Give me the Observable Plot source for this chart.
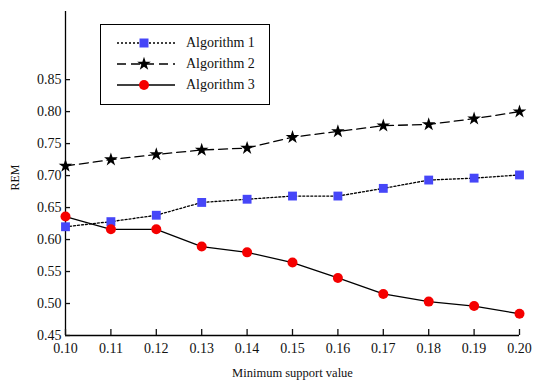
<!DOCTYPE html>
<html>
<head>
<meta charset="utf-8">
<script src="https://cdn.jsdelivr.net/npm/d3@7"></script>
<script src="https://cdn.jsdelivr.net/npm/@observablehq/plot@0.6"></script>
<style>
  html, body { margin: 0; padding: 0; background: #fff; }
  #wrap { position: relative; width: 541px; height: 380px; overflow: hidden; font-family: "Liberation Serif", "Times New Roman", serif; }
  #chart svg, #chart svg text { font-family: "Liberation Serif", "Times New Roman", serif !important; }
  #legend { position: absolute; left: 100px; top: 24px; width: 170px; height: 81px; border: 1px solid #000; background: #fff; box-sizing: border-box; }
  .lg-row { position: absolute; left: 0; height: 20px; display: flex; align-items: center; }
  .lg-row span { font-size: 14px; margin-left: 10px; color: #111; font-family: "Liberation Serif", serif; }
</style>
</head>
<body>
<div id="wrap">
  <div id="chart"></div>
  <div id="legend"></div>
</div>
<script>
const supportValues = [0.10, 0.11, 0.12, 0.13, 0.14, 0.15, 0.16, 0.17, 0.18, 0.19, 0.20];
const algorithm1 = [0.620, 0.628, 0.638, 0.658, 0.663, 0.668, 0.668, 0.680, 0.693, 0.696, 0.701];
const algorithm2 = [0.715, 0.725, 0.733, 0.740, 0.743, 0.760, 0.769, 0.778, 0.780, 0.789, 0.800];
const algorithm3 = [0.636, 0.616, 0.616, 0.589, 0.580, 0.564, 0.540, 0.515, 0.503, 0.496, 0.484];
const seriesNames = ["Algorithm 1", "Algorithm 2", "Algorithm 3"];
const yTicks = [0.45, 0.50, 0.55, 0.60, 0.65, 0.70, 0.75, 0.80, 0.85];
const xTicks = supportValues;

const series = [algorithm1, algorithm2, algorithm3];
const styles = [
  {stroke: "#000", dash: "2,2", width: 1.3, symbol: "square", fill: "#4646f8", r: 5},
  {stroke: "#000", dash: "9,5", width: 1.3, symbol: "star", fill: "#000", r: 4.3},
  {stroke: "#000", dash: null, width: 1.3, symbol: "circle", fill: "#f50000", r: 5}
];
const data = series.map((vals, i) => supportValues.map((x, j) => ({x, y: vals[j], s: seriesNames[i]})));

const marks = [
  Plot.ruleX([supportValues[0]], {stroke: "#000", strokeWidth: 1.3}),
  Plot.ruleY([yTicks[0]], {stroke: "#000", strokeWidth: 1.3}),
  Plot.axisY({ticks: yTicks, tickSize: -5, tickPadding: 9, tickFormat: d3.format(".2f"), fontSize: 14, label: null, strokeWidth: 1.3}),
  Plot.axisX({ticks: xTicks, tickSize: -6, tickPadding: 14, tickFormat: d3.format(".2f"), fontSize: 14, label: null, strokeWidth: 1.3}),
  Plot.text(["REM"], {frameAnchor: "left", rotate: -90, dx: -50, dy: 17, fontSize: 12, fill: "#111"}),
  Plot.text(["Minimum support value"], {frameAnchor: "bottom", dy: 41, fontSize: 12.5, fill: "#111"})
];
data.forEach((d, i) => {
  const st = styles[i];
  marks.push(Plot.line(d, {x: "x", y: "y", stroke: st.stroke, strokeWidth: st.width, strokeDasharray: st.dash}));
  marks.push(Plot.dot(d, {x: "x", y: "y", symbol: () => st.symbol, fill: st.fill, stroke: "none", r: st.r}));
});

const chart = Plot.plot({
  width: 541,
  height: 380,
  marginLeft: 65,
  marginRight: 22,
  marginTop: 11,
  marginBottom: 45,
  style: {fontFamily: "'Liberation Serif', 'Times New Roman', serif", fontSize: "14px", color: "#111", background: "#fff"},
  x: {domain: [0.10, 0.20]},
  y: {domain: [0.45, 0.9565]},
  symbol: {type: "identity"},
  marks
});
document.getElementById("chart").appendChild(chart);

// Legend
const legend = d3.select("#legend");
const rowsY = [8, 29, 50];
const symMap = {square: d3.symbolSquare, star: d3.symbolStar, circle: d3.symbolCircle};
seriesNames.forEach((name, i) => {
  const st = styles[i];
  const row = legend.append("div").attr("class", "lg-row").style("top", rowsY[i] + "px");
  const svg = row.append("svg").attr("width", 75).attr("height", 20);
  svg.append("line").attr("x1", 16).attr("x2", 74).attr("y1", 10).attr("y2", 10)
    .attr("stroke", st.stroke).attr("stroke-width", st.width).attr("stroke-dasharray", st.dash);
  // match Plot's symbol sizing: area = pi * r^2 * (symbol-specific scale)
  const area = st.symbol === "square" ? (st.r * 1.8) ** 2 : st.symbol === "star" ? Math.PI * st.r * st.r : Math.PI * st.r * st.r;
  svg.append("path").attr("d", d3.symbol(symMap[st.symbol], area)()).attr("transform", "translate(43,10)").attr("fill", st.fill);
  row.append("span").text(name);
});
</script>
</body>
</html>
